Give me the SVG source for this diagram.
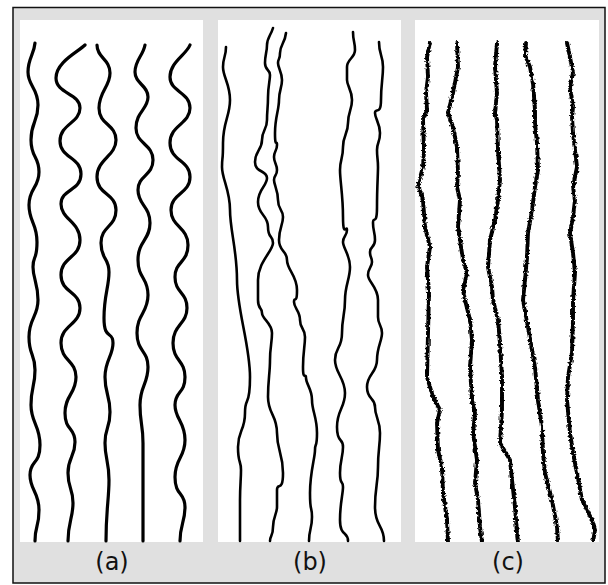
<svg xmlns="http://www.w3.org/2000/svg" width="608" height="585" viewBox="0 0 608 585">
<style>
.panel{fill:#ffffff}
.wa{fill:none;stroke:#000;stroke-width:3.2;stroke-linecap:round;stroke-linejoin:round}
.wb{fill:none;stroke:#000;stroke-width:2.6;stroke-linecap:round;stroke-linejoin:round}
.wc{fill:none;stroke:#000;stroke-width:3.9;stroke-linecap:round;stroke-linejoin:round}
.lbl{font-family:"DejaVu Sans","Liberation Sans",sans-serif;font-size:24px;fill:#111;text-anchor:middle}
</style>
<defs>
<filter id="rough" filterUnits="userSpaceOnUse" x="410" y="15" width="195" height="532">
<feTurbulence type="fractalNoise" baseFrequency="0.4" numOctaves="2" seed="4" result="n"/>
<feDisplacementMap in="SourceGraphic" in2="n" scale="3.8" xChannelSelector="R" yChannelSelector="G"/>
</filter>
<clipPath id="clipC"><rect x="415" y="20" width="184" height="522"/></clipPath>
</defs>
<rect x="0" y="0" width="608" height="585" fill="#ffffff"/>
<rect id="frame" x="13" y="7.5" width="592" height="575.5" fill="#e0e0e0" stroke="#111" stroke-width="1.5"/>

<g id="panel-a">
<rect class="panel" x="20" y="20" width="183" height="522"/>
<path class="wa" d="M35,43 C34,55 28,58 28,72 S38,88 38,105 S31,122 31,140 S39,156 39,172 S29,188 29,205 S37,223 37,242 S33,255 33,267 S38,283 38,300 S29,318 29,337 S35,353 35,370 S31,387 31,405 S40,425 40,445 S30,460 30,475 S39,492 39,510 S35,525 35,541"/>
<path class="wa" d="M85,45 C78,52 56,62 56,78 S80,93 80,108 S60,124 60,141 S81,157 81,174 S61,189 61,204 S80,222 80,240 S61,257 61,275 S80,291 80,308 S61,325 61,343 S76,360 76,377 S65,395 65,413 S75,427 75,442 S68,457 68,473 S73,488 73,503 S68,522 68,541"/>
<path class="wa" d="M97,45 C97,58 110,59 110,73 S99,91 99,108 S116,124 116,140 S97,159 97,177 S116,193 116,210 S101,226 101,243 S109,257 109,272 S104,295 104,318 S113,330 113,343 S105,360 105,377 S110,395 110,412 S105,427 105,443 S109,461 109,480 S106,510 106,541"/>
<path class="wa" d="M145,45 C143,56 135,60 135,72 S148,85 148,97 S136,112 136,128 S153,144 153,160 S138,175 138,190 S150,206 150,223 S138,241 138,260 S148,277 148,295 S137,314 137,333 S148,350 148,367 S140,386 140,405 S143,424 143,443 S143,500 143,541"/>
<path class="wa" d="M190,45 C186,55 170,62 170,77 S190,92 190,108 S170,125 170,143 S190,160 190,177 S171,193 171,210 S188,227 188,245 S175,261 175,277 S187,292 187,308 S173,325 173,343 S185,360 185,377 S175,391 175,405 S185,422 185,440 S175,458 175,477 S185,492 185,507 S180,525 180,541"/>
</g>

<g id="panel-b">
<rect class="panel" x="218" y="20" width="183" height="522"/>
<path class="wb" d="M226,47 C226,57 223,57 223,67 S230,84 230,100 S223,122 223,143 S222,155 222,167 S230,190 230,210 S237,250 237,280 S250,345 250,377 S245,395 245,413 S238,430 238,447 S241,460 241,470 S240,485 240,500 S240,520 240,541"/>
<path class="wb" d="M273,28 C271,35 267,38 267,45 S265,55 265,63 S270,69 270,75 S268,86 268,97 S267,110 267,120 S262,130 262,140 S255,151 255,162 S267,170 267,178 S258,189 258,202 S268,215 268,227 S273,235 273,243 S258,262 258,280 S258,290 258,300 S262,307 262,313 S272,323 272,333 S270,347 270,360 S268,380 268,397 S277,415 277,433 S283,453 283,473 S277,482 277,490 S277,500 277,507 S273,517 273,527 S270,535 270,541"/>
<path class="wb" d="M286,33 C285,43 280,45 280,53 S278,58 278,63 S282,72 282,80 S279,90 279,100 S275,117 275,133 S277,139 277,145 S274,151 274,157 S277,164 277,170 S274,175 274,180 S278,190 278,200 S283,209 283,217 S279,228 279,240 S287,250 287,260 S297,275 297,290 S294,296 294,302 S300,311 300,320 S305,328 305,337 S303,352 303,367 S306,372 306,378 S312,389 312,400 S317,417 317,433 S315,442 315,450 S310,472 310,493 S312,505 312,517 S309,529 309,541"/>
<path class="wb" d="M353,32 C353,41 355,42 355,50 S347,59 347,67 S347,74 347,80 S352,90 352,100 S348,112 348,123 S343,135 343,147 S340,159 340,170 S343,195 343,217 S347,224 347,230 S343,236 343,242 S350,255 350,267 S345,285 345,300 S342,317 342,333 S335,347 335,360 S345,378 345,393 S337,410 337,427 S343,437 343,447 S340,460 340,473 S343,480 343,487 S340,503 340,520 S348,531 348,541"/>
<path class="wb" d="M379,42 C379,55 383,55 383,67 S381,84 381,100 S375,107 375,113 S380,123 380,133 S377,142 377,150 S378,159 378,167 S377,187 377,207 S373,215 373,223 S375,232 375,240 S370,246 370,252 S372,257 372,262 S368,268 368,275 S378,287 378,300 S378,309 378,317 S382,325 382,333 S377,347 377,360 S367,374 367,387 S375,397 375,407 S380,420 380,433 S378,450 378,467 S375,487 375,507 S384,525 384,541"/>
</g>

<g id="panel-c">
<rect class="panel" x="415" y="20" width="184" height="522"/>
<g clip-path="url(#clipC)">
<g filter="url(#rough)">
<polyline class="wc" points="430,43 427,57 428,77 426,93 427,110 423,120 424,150 423,167 418,185 423,200 425,227 430,247 427,267 429,293 428,333 427,377 433,397 440,410 437,423 438,450 442,467 443,493 447,520 448,542"/>
<polyline class="wc" points="457,43 458,67 453,93 448,113 453,127 457,147 458,173 457,187 460,200 458,227 460,240 463,260 467,273 463,290 465,300 470,320 472,340 470,367 472,400 475,413 473,433 477,460 475,483 478,500 480,527 482,542"/>
<polyline class="wc" points="497,43 495,67 497,93 495,113 497,120 498,150 500,180 498,200 495,220 490,240 488,267 492,287 493,300 498,320 500,343 502,377 502,410 500,443 510,460 512,480 515,507 517,533 518,542"/>
<polyline class="wc" points="526,43 525,55 530,67 533,83 535,110 535,123 537,143 538,170 535,187 532,210 528,233 527,257 525,280 523,300 528,327 535,367 538,400 542,427 543,453 545,473 552,500 557,527 558,542"/>
<polyline class="wc" points="567,43 570,57 573,73 570,87 573,107 572,117 573,133 577,167 573,187 575,200 573,217 570,233 573,253 575,273 573,300 573,320 572,353 568,377 567,400 570,433 573,453 577,473 582,500 592,520 595,530 593,542"/>
</g>
</g>
</g>

<g id="labels">
<text class="lbl" x="112" y="570">(a)</text>
<text class="lbl" x="310" y="570">(b)</text>
<text class="lbl" x="508" y="570">(c)</text>
</g>
</svg>
